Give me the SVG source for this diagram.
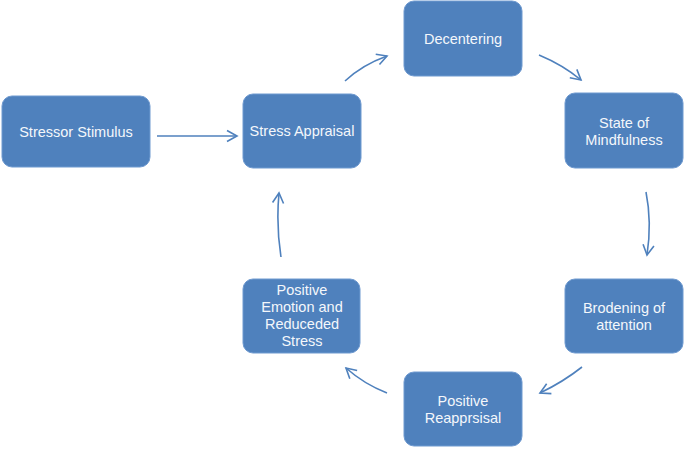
<svg xmlns="http://www.w3.org/2000/svg" width="685" height="449" viewBox="0 0 685 449">
<defs>
<style>
.box{fill:#4F81BD;stroke:#6F9AD0;stroke-width:1}
.t{font-family:"Liberation Sans","Open Sans",sans-serif;font-size:14.5px;fill:#F4F7FB;text-anchor:middle}
.c{fill:none;stroke:#4F81BD;stroke-width:1.6;marker-end:url(#ah)}
</style>
<marker id="ah" markerUnits="userSpaceOnUse" markerWidth="14" markerHeight="14" viewBox="0 0 14 14" refX="12" refY="7" orient="auto">
<path d="M2,1.5 L12,7 L2,12.5" fill="none" stroke="#4F81BD" stroke-width="1.6"/>
</marker>
</defs>
<rect width="685" height="449" fill="#FFFFFF"/>
<g id="connectors">
<path class="c" d="M157,136 L237,136"/>
<path class="c" d="M345,81 Q362,65 387,56"/>
<path class="c" d="M539,55 Q563,65 581,80"/>
<path class="c" d="M646,192 Q652,222 647,255"/>
<path class="c" d="M582,367 Q563,382 540,393"/>
<path class="c" d="M387,393 Q364,384 346,368"/>
<path class="c" d="M281,257 Q276,225 279,193"/>
</g>
<g id="stressor-stimulus">
<rect class="box" x="2" y="96" width="148" height="71" rx="10"/>
<text class="t" x="76" y="137">Stressor Stimulus</text>
</g>
<g id="stress-appraisal">
<rect class="box" x="243" y="94" width="118" height="74" rx="10"/>
<text class="t" x="302" y="136">Stress Appraisal</text>
</g>
<g id="decentering">
<rect class="box" x="404" y="1" width="118" height="75" rx="10"/>
<text class="t" x="463" y="44">Decentering</text>
</g>
<g id="state-of-mindfulness">
<rect class="box" x="565" y="93" width="118" height="75" rx="10"/>
<text class="t" x="624" y="128">State of</text>
<text class="t" x="624" y="145">Mindfulness</text>
</g>
<g id="brodening-of-attention">
<rect class="box" x="565" y="279" width="118" height="74" rx="10"/>
<text class="t" x="624" y="313">Brodening of</text>
<text class="t" x="624" y="330">attention</text>
</g>
<g id="positive-reapprsisal">
<rect class="box" x="404" y="372" width="118" height="74" rx="10"/>
<text class="t" x="463" y="406">Positive</text>
<text class="t" x="463" y="423">Reapprsisal</text>
</g>
<g id="positive-emotion">
<rect class="box" x="243" y="279" width="117" height="74" rx="10"/>
<text class="t" x="302" y="295">Positive</text>
<text class="t" x="302" y="312">Emotion and</text>
<text class="t" x="302" y="329">Reduceded</text>
<text class="t" x="302" y="346">Stress</text>
</g>
</svg>
